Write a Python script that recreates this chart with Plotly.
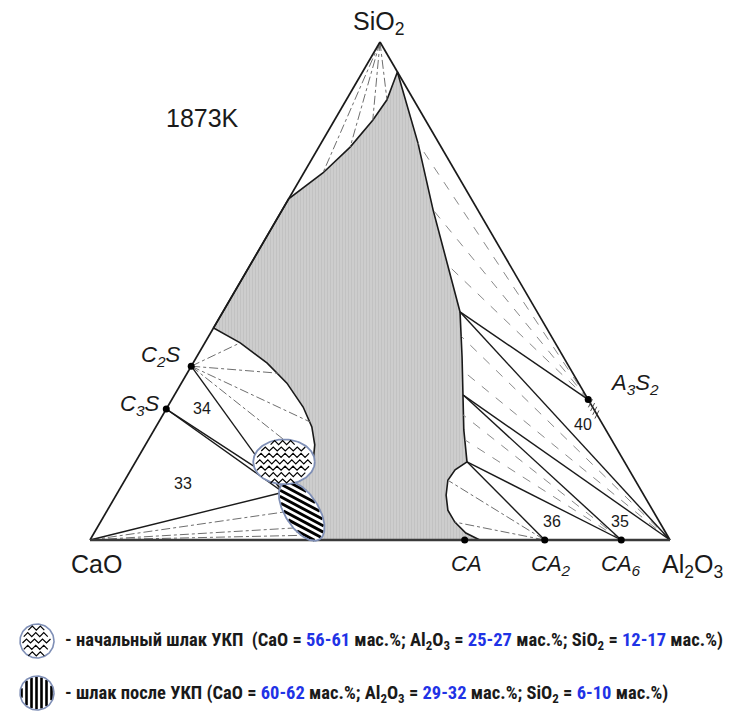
import numpy as np
import plotly.graph_objects as go

# ---------------- DATA (wt.%: Al2O3, SiO2; CaO = rest) ----------------
compound_labels = ["<i>C<sub>2</sub>S</i>", "<i>C<sub>3</sub>S</i>", "<i>CA</i>",
                   "<i>CA<sub>2</sub></i>", "<i>CA<sub>6</sub></i>", "<i>A<sub>3</sub>S<sub>2</sub></i>"]
compound_al = [0.0, 0.0, 64.6, 78.4, 91.6, 71.8]
compound_si = [34.9, 26.3, 0.0, 0.0, 0.0, 28.2]

# boundary of the homogeneous liquid region at 1873 K
liquid_al = [6.0, 16.7, 26.0, 34.1, 40.9, 45.8, 49.8, 53.4, 57.15, 55.9, 55.7, 56.9, 58.7,
             61.1, 64.1, 67.2, 39.7, 33.7, 28.5, 25.2, 29.6, 30.7, 29.2, 26.9, 23.4, 18.2,
             12.8, 6.1, 0.0, 0.0, 3.3, 5.4, 6.6, 7.0, 6.0]
liquid_si = [94.0, 79.7, 66.3, 55.2, 45.8, 36.7, 29.1, 22.1, 15.7, 14.1, 12.0, 9.0, 6.0,
             3.6, 1.4, 0.0, 0.0, 5.0, 9.6, 12.4, 13.3, 15.5, 19.1, 22.7, 26.7, 31.5,
             35.5, 39.6, 42.6, 68.5, 73.7, 78.9, 84.3, 88.4, 94.0]

# liquid corners of three-phase triangles
liq40 = (40.9, 45.8)   # A3S2 + Al2O3 + L
liq35 = (49.8, 29.1)   # Al2O3 + CA6 + L
liq36 = (57.15, 15.7)  # CA6 + CA2 + L
liq34 = (25.2, 12.4)   # C2S + C3S + L
liq33 = (28.5, 9.6)    # C3S + CaO + L

# tie lines (liquid ends)
tie_sio2_al, tie_sio2_si = [3.3, 5.4, 6.6, 7.0], [73.7, 78.9, 84.3, 88.4]
tie_a3s2_al, tie_a3s2_si = [16.7, 26.0, 34.1], [79.7, 66.3, 55.2]
tie_al2o3_al, tie_al2o3_si = [43.7, 47.1], [40.8, 34.1]
tie_ca6_al, tie_ca6_si = [51.8, 54.6], [25.1, 20.1]
tie_ca2_al, tie_ca2_si = [55.7, 61.1], [12.0, 3.6]
tie_c2s_al, tie_c2s_si = [6.1, 15.7, 26.1, 30.7], [39.6, 33.5, 23.7, 15.5]
tie_cao_al, tie_cao_si = [32.7, 36.6, 38.5], [6.0, 2.6, 1.0]

# slag compositions (ellipse centres, wt.% Al2O3, SiO2) and ellipse semi-axes
slag_initial = (25.6, 15.7)
slag_initial_axes = (0.053, 0.039, 0.0)
slag_final = (33.6, 5.8)
slag_final_axes = (0.058, 0.029, -58.0)

legend_initial = ["56-61", "25-27", "12-17"]
legend_final = ["60-62", "29-32", "6-10"]

# ---------------- helpers ----------------
S3 = np.sqrt(3) / 2
KX, KY = 580.0, 575.0   # px per unit
OFF = 8                 # page body margin
W, H = 731 - OFF, 727 - OFF


def to_xy(al, si):
    al = np.asarray(al, float) / 100
    si = np.asarray(si, float) / 100
    return al + si / 2, si * S3


def px(xp, yp):
    return (xp - 90) / KX, (540 - yp) / KY


def paper(xp, yp):
    return (xp - OFF) / W, 1 - (yp - OFF) / H


def ellipse(cx, cy, a, b, ang, n=120):
    t = np.linspace(0, 2 * np.pi, n)
    A = np.deg2rad(ang)
    x = cx + a * np.cos(t) * np.cos(A) - b * np.sin(t) * np.sin(A)
    y = cy + a * np.cos(t) * np.sin(A) + b * np.sin(t) * np.cos(A)
    return x, y


def zigzag(cx, cy, a, b, row_px=6.4, period_px=8.0, amp_px=2.0, margin_px=2.5):
    xs, ys = [], []
    dy = row_px / KY
    nrows = int(2 * b / dy)
    y0 = cy - (nrows - 1) * dy / 2
    for k in range(nrows):
        yc = y0 + k * dy
        f = 1 - ((yc - cy) / b) ** 2
        if f <= 0:
            continue
        w = a * np.sqrt(f) - margin_px / KX
        if w <= 0:
            continue
        half = period_px / 2 / KX
        n = int(2 * w / half)
        xx = cx - w + np.arange(n + 1) * half
        yy = yc + np.where(np.arange(n + 1) % 2 == 0, -amp_px / KY, amp_px / KY)
        xs += list(xx) + [None]
        ys += list(yy) + [None]
    return xs, ys


def stripes(cx, cy, a, b, ang, phi, period_px, margin_px=0.8):
    """parallel stripes clipped to a (rotated) ellipse; geometry done in px units"""
    CX, CY, Ap, Bp = cx * KX, cy * KY, a * KX, b * KX
    A = np.deg2rad(ang)
    P = np.deg2rad(phi)
    d = np.array([np.cos(P), np.sin(P)])
    nrm = np.array([-np.sin(P), np.cos(P)])
    R = max(Ap, Bp)
    t = np.linspace(-R, R, 600)
    xs, ys = [], []
    for s in np.arange(-R + period_px / 2, R, period_px):
        X = CX + s * nrm[0] + t * d[0]
        Y = CY + s * nrm[1] + t * d[1]
        dx, dy = X - CX, Y - CY
        u = (dx * np.cos(A) + dy * np.sin(A)) / (Ap - margin_px)
        v = (-dx * np.sin(A) + dy * np.cos(A)) / (Bp - margin_px)
        inside = u ** 2 + v ** 2 < 1
        if inside.sum() < 2:
            continue
        idx = np.where(inside)[0]
        i0, i1 = idx[0], idx[-1]
        xs += [X[i0] / KX, X[i1] / KX, None]
        ys += [Y[i0] / KY, Y[i1] / KY, None]
    return xs, ys


fig = go.Figure()

# liquid region
lx, ly = to_xy(liquid_al, liquid_si)
fig.add_trace(go.Scatter(x=lx, y=ly, mode="lines", fill="toself",
                         fillcolor="#c8c8c8",
                         fillpattern=dict(shape="|", fgcolor="#b8b8b8", bgcolor="#cdcdcd",
                                          size=3, solidity=0.35),
                         line=dict(color="#1a1a1a", width=1.6), hoverinfo="skip"))


def fan(origin, al_list, si_list, dash, color="#6e6e6e", width=1):
    xs, ys = [], []
    ox, oy = to_xy(*origin)
    for a, s in zip(al_list, si_list):
        x, y = to_xy(a, s)
        xs += [float(ox), float(x), None]
        ys += [float(oy), float(y), None]
    fig.add_trace(go.Scatter(x=xs, y=ys, mode="lines",
                             line=dict(color=color, width=width, dash=dash), hoverinfo="skip"))


C2S = (compound_al[0], compound_si[0])
C3S = (compound_al[1], compound_si[1])
CA2 = (compound_al[3], compound_si[3])
CA6 = (compound_al[4], compound_si[4])
A3S2 = (compound_al[5], compound_si[5])
SIO2 = (0.0, 100.0)
AL2O3 = (100.0, 0.0)
CAO = (0.0, 0.0)

fan(SIO2, tie_sio2_al, tie_sio2_si, "dashdot")
fan(A3S2, tie_a3s2_al, tie_a3s2_si, "dash", "#8a8a8a")
fan(AL2O3, tie_al2o3_al, tie_al2o3_si, "dash", "#8a8a8a")
fan(CA6, tie_ca6_al, tie_ca6_si, "dash", "#8a8a8a")
fan(CA2, tie_ca2_al, tie_ca2_si, "dashdot")
fan(C2S, tie_c2s_al, tie_c2s_si, "dashdot")
fan(CAO, tie_cao_al, tie_cao_si, "dashdot")

# three-phase triangle sides (solid)
solid = [(A3S2, liq40), (AL2O3, liq40), (AL2O3, liq35), (CA6, liq35),
         (CA6, liq36), (CA2, liq36), (C2S, liq34), (C3S, liq34), (C3S, liq33), (CAO, liq33)]
sx, sy = [], []
for p, q in solid:
    x1, y1 = to_xy(*p)
    x2, y2 = to_xy(*q)
    sx += [float(x1), float(x2), None]
    sy += [float(y1), float(y2), None]
fig.add_trace(go.Scatter(x=sx, y=sy, mode="lines", line=dict(color="#1a1a1a", width=1.4),
                         hoverinfo="skip"))

# triangle edges
tx, ty = to_xy([0, 0, 100], [0, 100, 0])
fig.add_trace(go.Scatter(x=[tx[1], tx[0]], y=[ty[1], ty[0]], mode="lines",
                         line=dict(color="#1a1a1a", width=1.7), hoverinfo="skip"))
fig.add_trace(go.Scatter(x=[tx[1], tx[2]], y=[ty[1], ty[2]], mode="lines",
                         line=dict(color="#1a1a1a", width=1.7), hoverinfo="skip"))
fig.add_trace(go.Scatter(x=[tx[0], tx[2]], y=[ty[0], ty[2]], mode="lines",
                         line=dict(color="#3a3a3a", width=2.6), hoverinfo="skip"))

# small hatch marks just below A3S2 on the Al2O3-SiO2 edge
hx, hy = [], []
for k in range(1, 5):
    s_ = A3S2[1] - 0.75 * k
    ex_, ey_ = to_xy(100 - s_, s_)
    hx += [float(ex_) - 2 / KX, float(ex_) + 2 / KX, None]
    hy += [float(ey_) - 4 / KY, float(ey_) + 4 / KY, None]
fig.add_trace(go.Scatter(x=hx, y=hy, mode="lines", line=dict(color="#333333", width=0.9),
                         hoverinfo="skip"))

# slag ellipses
BORDER = "#7f8fb6"
cx, cy = to_xy(*slag_final)
a, b, ang = slag_final_axes
ex, ey = ellipse(float(cx), float(cy), a, b, ang)
fig.add_trace(go.Scatter(x=ex, y=ey, mode="lines", fill="toself", fillcolor="white",
                         line=dict(color=BORDER, width=0), hoverinfo="skip"))
stx, sty = stripes(float(cx), float(cy), a, b, ang, -28, 5.6)
fig.add_trace(go.Scatter(x=stx, y=sty, mode="lines", line=dict(color="black", width=2.9),
                         hoverinfo="skip"))
fig.add_trace(go.Scatter(x=ex, y=ey, mode="lines",
                         line=dict(color=BORDER, width=1.8), hoverinfo="skip"))

cx, cy = to_xy(*slag_initial)
a, b, ang = slag_initial_axes
ex, ey = ellipse(float(cx), float(cy), a, b, ang)
fig.add_trace(go.Scatter(x=ex, y=ey, mode="lines", fill="toself", fillcolor="white",
                         line=dict(color=BORDER, width=1.8), hoverinfo="skip"))
zx, zy = zigzag(float(cx), float(cy), a, b)
fig.add_trace(go.Scatter(x=zx, y=zy, mode="lines", line=dict(color="black", width=1.2),
                         hoverinfo="skip"))

# compound points
cxs, cys = to_xy(compound_al, compound_si)
fig.add_trace(go.Scatter(x=cxs, y=cys, mode="markers",
                         marker=dict(color="black", size=7), hoverinfo="skip"))

# legend icons
r = 17
ix, iy = px(37, 641)
ex, ey = ellipse(ix, iy, r / KX, r / KY, 0)
fig.add_trace(go.Scatter(x=ex, y=ey, mode="lines", fill="toself", fillcolor="white",
                         line=dict(color=BORDER, width=1.6), hoverinfo="skip"))
zx, zy = zigzag(ix, iy, r / KX, r / KY)
fig.add_trace(go.Scatter(x=zx, y=zy, mode="lines", line=dict(color="black", width=1.2),
                         hoverinfo="skip"))
ix, iy = px(37, 693)
ex, ey = ellipse(ix, iy, r / KX, r / KY, 0)
fig.add_trace(go.Scatter(x=ex, y=ey, mode="lines", fill="toself", fillcolor="white",
                         line=dict(color=BORDER, width=0), hoverinfo="skip"))
stx, sty = stripes(ix, iy, r / KX, r / KX, 0, 90, 5.0)
fig.add_trace(go.Scatter(x=stx, y=sty, mode="lines", line=dict(color="black", width=2.6),
                         hoverinfo="skip"))
fig.add_trace(go.Scatter(x=ex, y=ey, mode="lines",
                         line=dict(color=BORDER, width=1.6), hoverinfo="skip"))

# ---------------- annotations ----------------
FONT = "Liberation Sans, Arial, Helvetica, sans-serif"
ann = []


def lab(text, al, si, dx, dy, size, color="#1a1a1a"):
    x, y = to_xy(al, si)
    ann.append(dict(x=float(x), y=float(y), text=text, showarrow=False, xshift=dx, yshift=dy,
                    font=dict(family=FONT, size=size, color=color), xanchor="center", yanchor="middle"))


lab("SiO<sub>2</sub>", 0, 100, -2, 19, 25)
lab("CaO", 0, 0, 6, -24, 25)
lab("Al<sub>2</sub>O<sub>3</sub>", 100, 0, 22, -26, 25)
shifts = [(-31, 10), (-27, 4), (2, -23), (6, -25), (0, -25), (46, 16)]
for t, a_, s_, (dx, dy) in zip(compound_labels, compound_al, compound_si, shifts):
    lab(t, a_, s_, dx, dy, 22)

region_labels = ["34", "33", "40", "36", "35"]
region_al = [6.1, 10.3, 73.45, 77.8, 89.5]
region_si = [26.5, 11.4, 23.1, 3.8, 3.8]
for t, a_, s_ in zip(region_labels, region_al, region_si):
    lab(t, a_, s_, 0, 0, 16)

kx, ky = paper(202, 118)
ann.append(dict(x=kx, y=ky, xref="paper", yref="paper", text="1873K", xanchor="center",
                yanchor="middle", showarrow=False, font=dict(family=FONT, size=25, color="#1a1a1a")))

BLUE = "#1f33e6"


def blue(s):
    return f"<span style='color:{BLUE}'>{s}</span>"


leg1 = ("<b>- начальный шлак УКП&nbsp; (CaO = " + blue(legend_initial[0]) + " мас.%; Al<sub>2</sub>O<sub>3</sub> = "
        + blue(legend_initial[1]) + " мас.%; SiO<sub>2</sub> = " + blue(legend_initial[2]) + " мас.%)</b>")
leg2 = ("<b>- шлак после УКП (CaO = " + blue(legend_final[0]) + " мас.%; Al<sub>2</sub>O<sub>3</sub> = "
        + blue(legend_final[1]) + " мас.%; SiO<sub>2</sub> = " + blue(legend_final[2]) + " мас.%)</b>")
LFONT = "Liberation Sans Narrow, Arial Narrow, Roboto Condensed, Liberation Sans, sans-serif"
for txt, yp in [(leg1, 641), (leg2, 694)]:
    lxp, lyp = paper(63, yp)
    ann.append(dict(x=lxp, y=lyp, xref="paper", yref="paper", text=txt, showarrow=False,
                    xanchor="left", yanchor="middle", font=dict(family=LFONT, size=18.5, color="#1a1a1a")))

fig.update_layout(
    width=W, height=H, autosize=False,
    margin=dict(l=0, r=0, t=0, b=0),
    paper_bgcolor="white", plot_bgcolor="white",
    showlegend=False,
    xaxis=dict(range=[-(90 - OFF) / KX, (W - (90 - OFF)) / KX], visible=False, fixedrange=True),
    yaxis=dict(range=[-(H - (540 - OFF)) / KY, (540 - OFF) / KY], visible=False, fixedrange=True),
    annotations=ann,
)

fig.write_html("out.html")
